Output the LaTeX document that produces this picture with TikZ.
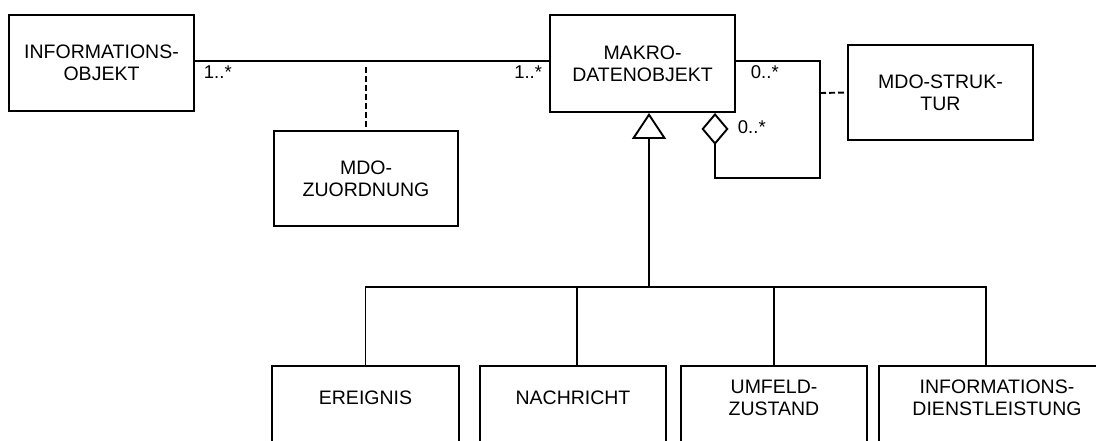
\documentclass[tikz,border=0pt]{standalone}
\usepackage{fontspec}
\setmainfont{Liberation Sans}
\usetikzlibrary{arrows.meta}
\begin{document}
\begin{tikzpicture}[x=1pt,y=-1pt,line width=1.9pt,
  txt/.style={rectangle,inner sep=0pt,align=center,font=\fontsize{19.5pt}{22pt}\selectfont},
  box/.style={txt,draw},
  lbl/.style={inner sep=0pt,font=\fontsize{18.5pt}{20pt}\selectfont},
  assoc/.style={dash pattern=on 6pt off 3pt}]
\useasboundingbox (0,0) rectangle (1096,440);
% upper classes
\node[box,minimum width=185pt,minimum height=96pt] (i) at (101.5,63) {INFORMATIONS-\\OBJEKT};
\node[box,minimum width=185pt,minimum height=97pt] (m) at (642.5,63.5) {MAKRO-\\DATENOBJEKT};
\node[box,minimum width=184pt,minimum height=95pt] (z) at (366,178.5) {MDO-\\ZUORDNUNG};
\node[box,minimum width=185pt,minimum height=95pt] (s) at (940.5,92.5) {MDO-STRUK-\\TUR};
% lower classes (open at the bottom edge)
\node[txt,minimum width=185pt,minimum height=62pt] (e) at (365.5,398) {EREIGNIS};
\node[txt,minimum width=184pt,minimum height=62pt] (n) at (573,398) {NACHRICHT};
\node[txt,minimum width=184pt,minimum height=62pt] (u) at (774,398) {UMFELD-\\ZUSTAND};
\node[txt,minimum width=234pt,minimum height=62pt] (d) at (997,398) {INFORMATIONS-\\DIENSTLEISTUNG};
\coordinate (bot) at (0,446);
\foreach \b in {e,n,u,d}
  \draw (\b.south west |- bot) -- (\b.north west) -- (\b.north east) -- (\b.south east |- bot);
% association with association class
\draw ([yshift=2pt]i.east) -- ([yshift=2.5pt]m.west);
\coordinate (a1) at (366,61);
\draw[assoc,shorten <=6pt] (a1) -- (z.north);
% recursive aggregation with association class
\coordinate (c1) at (820,178);
\draw[{Diamond[open,length=32pt,width=27pt]}-] ([xshift=72.5pt]m.south) |- (c1) |- ([yshift=2.5pt]m.east);
\coordinate (c2) at (820,93);
\draw[assoc] (c2) -- (s.west);
% generalization
\coordinate (bus) at (649,287);
\draw[-{Triangle[open,length=26pt,width=34pt]}] (bus) -- ([xshift=6.5pt]m.south);
\draw (e.north) |- (bus) -| ([xshift=-11pt]d.north);
\draw ([xshift=4pt]n.north) -- ([xshift=4pt]n.north |- bus);
\draw (u.north) -- (u.north |- bus);
% multiplicities
\node[lbl,anchor=base west] (l1) at (203,78) {1..*};
\node[lbl,anchor=base east] (l2) at (543,78) {1..*};
\node[lbl,anchor=base west] (l3) at (750,78) {0..*};
\node[lbl,anchor=base west] (l4) at (737,133) {0..*};
\end{tikzpicture}
\end{document}
